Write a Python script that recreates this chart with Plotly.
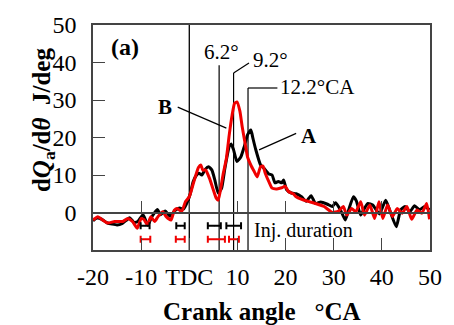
import plotly.graph_objects as go

# Heat release rate, case A (black) and case B (red)
angle_a = [-20, -19.2, -18.2, -17, -16, -15, -14, -13, -12.4, -11.5, -10.7, -9.6, -8.6, -7.8,
           -6.6, -6.0, -5.0, -4.0, -3.0, -2.0, -1.2, -0.4, 0.2, 0.8, 1.4, 2.0, 2.6, 3.3, 4.0,
           4.7, 5.3, 6.0, 6.7, 7.4, 8.3, 8.7, 9.2, 9.9, 10.7, 11.4, 12.1, 12.8, 13.2, 13.8,
           14.8, 15.5, 16.5, 17.2, 17.8, 18.5, 19.2, 19.6, 20.2, 21.2, 22.2, 23.3, 24.3, 25.3,
           26.2, 27.3, 28.7, 29.7, 30.4, 31.4, 32.4, 33.1, 34.1, 34.7, 35.6, 36.2, 37.1, 38.1,
           39.5, 40.8, 41.8, 43.0, 43.9, 44.8, 45.8, 46.8, 47.8, 48.9, 49.9]
heat_a = [-2.2, -1.5, -1.8, -2.8, -3.1, -3.3, -3.0, -2.0, -1.4, -2.6, -2.4, -0.6, -3.4, -1.2,
          0.8, -0.6, 0.4, -1.0, 0.5, 1.2, 0.9, 2.8, 5.0, 8.2, 9.8, 10.5, 10.0, 11.5, 12.2,
          11.3, 8.7, 5.2, 6.4, 11.8, 17.6, 18.3, 16.7, 13.6, 14.8, 17.5, 20.7, 22.0, 19.9, 16.8,
          12.7, 11.8, 10.3, 10.0, 7.9, 8.3, 7.9, 8.7, 6.1, 5.2, 5.0, 4.2, 3.0, 4.5,
          2.4, 2.8, 2.2, 1.6, 2.6, 0.7, -2.0, 0.7, 4.2, 3.1, -0.7, 0.7, 2.4, 2.0,
          -0.4, 3.3, 0.0, -3.8, 0.7, 1.6, 0.2, 1.8, 0.7, 1.6, 0.7]

angle_b = [-20, -19, -18, -17, -15.5, -13.8, -12.8, -11.8, -10.8, -10.0, -9.4, -8.7, -8.0, -7.2,
           -6.5, -5.5, -4.8, -3.8, -3.1, -2.5, -1.6, -0.8, 0.0, 0.9, 1.9, 2.4, 2.8, 3.4, 4.2,
           4.9, 5.6, 6.0, 6.4, 7.0, 7.7, 8.3, 8.9, 9.4, 9.9, 10.5, 11.0, 11.6, 12.1, 12.8,
           13.5, 14.1, 14.8, 15.3, 15.8, 16.5, 17.2, 18.2, 19.2, 19.9, 20.6, 21.6, 22.2, 23.6,
           24.9, 26.2, 28.0, 29.7, 31.0, 32.0, 32.7, 33.7, 34.6, 35.6, 36.4, 37.5, 38.5, 39.4,
           40.2, 41.2, 42.2, 43.2, 44.2, 45.2, 46.2, 47.3, 48.3, 49.3, 49.9]
heat_b = [-2.0, -1.1, -2.0, -2.8, -2.4, -2.4, -1.6, -2.4, -4.2, -1.6, -1.9, -3.3, -1.1, -2.4,
          -1.1, 0.2, -1.1, -2.0, 0.6, 1.1, 0.2, 2.9, 4.2, 8.0, 12.0, 12.7, 11.3, 11.3, 9.1,
          6.4, 3.8, 3.3, 5.5, 10.0, 14.4, 20.7, 26.0, 29.1, 29.5, 27.1, 22.8, 18.4, 14.8, 12.6,
          10.9, 9.5, 12.2, 12.4, 10.4, 8.3, 6.5, 6.3, 6.6, 7.0, 5.6, 5.0, 4.2, 3.4,
          2.9, 2.4, 1.6, 0.0, 0.4, 1.6, -0.7, 1.1, 0.2, 2.9, -0.7, 2.0, -1.6, 2.9,
          -1.6, 2.0, -1.1, 1.1, -0.2, 1.6, -1.8, 0.7, -0.2, 2.4, -1.8]

# Injection periods (start / end crank angle) and the row each set is drawn on
inj_a_start = [-10.1, -2.7, 3.85, 7.7]
inj_a_end = [-8.25, -0.95, 6.55, 10.75]
inj_a_row = -3.5
inj_b_start = [-10.1, -2.8, 3.85, 8.25]
inj_b_end = [-8.1, -0.95, 7.4, 10.3]
inj_b_row = -7.1

# Marked crank angles
marked_angles = [6.2, 9.2, 12.2]
marked_labels = ["6.2°", "9.2°", "12.2°CA"]

x_ticks = [-20, -10, 0, 10, 20, 30, 40, 50]
x_tick_text = ["-20", "-10", "TDC", "10", "20", "30", "40", "50"]
y_ticks = [0, 10, 20, 30, 40, 50]

FONT = "Liberation Serif"
RED = "#f00000"
AXC = "#444444"

fig = go.Figure()

fig.add_trace(go.Scatter(x=angle_a, y=heat_a, mode="lines",
                         line=dict(color="black", width=3, shape="spline", smoothing=0.5)))
fig.add_trace(go.Scatter(x=angle_b, y=heat_b, mode="lines",
                         line=dict(color=RED, width=3, shape="spline", smoothing=0.5)))


def inj_trace(starts, ends, row, color):
    mids = [(s + e) / 2 for s, e in zip(starts, ends)]
    half = [(e - s) / 2 for s, e in zip(starts, ends)]
    return go.Scatter(x=mids, y=[row] * len(mids), mode="markers", xaxis="x2",
                      marker=dict(size=1, color=color),
                      error_x=dict(type="data", array=half, symmetric=True,
                                   color=color, thickness=2, width=3.5))


fig.add_trace(inj_trace(inj_a_start, inj_a_end, inj_a_row, "black"))
fig.add_trace(inj_trace(inj_b_start, inj_b_end, inj_b_row, RED))

shapes = []
# TDC line
shapes.append(dict(type="line", xref="x", yref="y", x0=0, x1=0, y0=-10, y1=50,
                   line=dict(color="black", width=1.3), layer="below"))
# marked angle lines with their label leaders
tops = [39.3, 37.2, 33.2]
for a, t in zip(marked_angles, tops):
    shapes.append(dict(type="line", xref="x", yref="y", x0=a, x1=a, y0=-10, y1=t,
                       line=dict(color="black", width=1.2), layer="below"))
shapes.append(dict(type="line", xref="x", yref="y", x0=marked_angles[1], y0=tops[1],
                   x1=12.4, y1=39.9, line=dict(color="black", width=1.2)))
shapes.append(dict(type="line", xref="x", yref="y", x0=marked_angles[2], y0=tops[2],
                   x1=18.3, y1=tops[2], line=dict(color="black", width=1.2)))
# curve label leaders
shapes.append(dict(type="line", xref="x", yref="y", x0=-2.4, y0=28.1, x1=7.7, y1=22.5,
                   line=dict(color="black", width=1.2)))
shapes.append(dict(type="line", xref="x", yref="y", x0=22.2, y0=21.1, x1=14.5, y1=16.7,
                   line=dict(color="black", width=1.2)))

ann = []
ann.append(dict(x=-13.3, y=44.2, text="<b>(a)</b>", showarrow=False,
                font=dict(size=24, family=FONT, color="black")))
ann.append(dict(x=6.7, y=42.9, text=marked_labels[0], showarrow=False,
                font=dict(size=21, family=FONT, color="black")))
ann.append(dict(x=12.8, y=40.7, text=marked_labels[1], showarrow=False, xanchor="left",
                font=dict(size=21, family=FONT, color="black")))
ann.append(dict(x=18.5, y=33.5, text=marked_labels[2], showarrow=False, xanchor="left",
                font=dict(size=21, family=FONT, color="black")))
ann.append(dict(x=-5.1, y=28.1, text="<b>B</b>", showarrow=False,
                font=dict(size=21, family=FONT, color="black")))
ann.append(dict(x=24.8, y=20.4, text="<b>A</b>", showarrow=False,
                font=dict(size=21, family=FONT, color="black")))
ann.append(dict(x=13.0, y=-4.7, text="Inj. duration", showarrow=False, xanchor="left",
                font=dict(size=20, family=FONT, color="black")))
# axis titles
ann.append(dict(xref="paper", yref="paper", x=0.5, y=-0.275, yanchor="middle",
                text="<b>Crank angle\u00a0\u00a0\u00a0°CA</b>", showarrow=False,
                font=dict(size=25, family=FONT, color="black")))
ann.append(dict(xref="paper", yref="paper", x=-0.197, y=0.578, textangle=-90,
                text="<b>d<i>Q</i><sub>a</sub>/d<i>θ</i>\u00a0\u00a0J/deg</b>", showarrow=False,
                font=dict(size=25, family=FONT, color="black")))

fig.update_layout(
    width=454, height=325,
    margin=dict(l=93, r=15, t=25, b=75),
    paper_bgcolor="white", plot_bgcolor="white",
    showlegend=False,
    font=dict(family=FONT, size=24, color="black"),
    shapes=shapes, annotations=ann,
    xaxis=dict(range=[-20, 50], tickvals=x_ticks, ticktext=x_tick_text,
               ticks="inside", ticklen=12, tickwidth=1.3, tickcolor=AXC,
               showline=True, linecolor=AXC, linewidth=1.5, mirror=True,
               showgrid=False, zeroline=False, ticklabelstandoff=4,
               tickfont=dict(size=24, family=FONT, color="black")),
    xaxis2=dict(range=[-20, 50], matches="x", overlaying="x", anchor="free",
                position=1 / 6, side="bottom", tickvals=x_ticks,
                ticks="inside", ticklen=11, tickwidth=1.3, tickcolor=AXC,
                showline=True, linecolor=AXC, linewidth=1.5,
                showticklabels=False, showgrid=False, zeroline=False),
    yaxis=dict(range=[-10, 50], tickvals=y_ticks,
               ticks="inside", ticklen=12, tickwidth=1.3, tickcolor=AXC,
               showline=True, linecolor=AXC, linewidth=1.5, mirror=True,
               showgrid=False, zeroline=False, ticklabelstandoff=10,
               tickfont=dict(size=24, family=FONT, color="black")),
)

fig.write_html("out.html")
